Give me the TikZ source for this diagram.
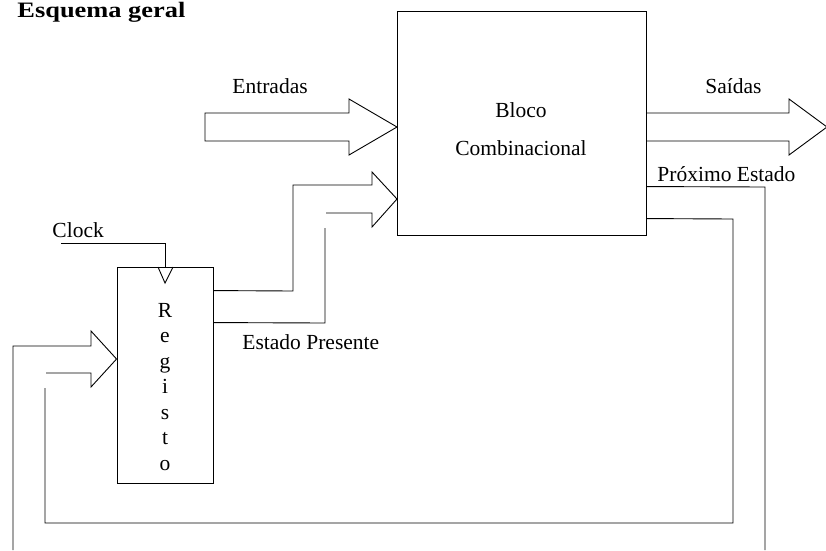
\documentclass[tikz,border=0pt]{standalone}
\usepackage{fontspec}
\setmainfont{Liberation Serif}
\newfontfamily\titlefont[FakeStretch=1.2]{Liberation Serif}
\usetikzlibrary{positioning}

\begin{document}
\begin{tikzpicture}[x=1pt,y=-1pt,line width=0.9pt,
    txt/.style={inner sep=0pt,anchor=base west,font=\fontsize{21.5}{25}\selectfont},
    caixa/.style={draw,rectangle,inner sep=0pt}]
    \useasboundingbox (0,0) rectangle (826,550);
    % Title
    \node[inner sep=0pt,anchor=base west,font=\titlefont\fontsize{22}{26}\bfseries\selectfont] (titulo) at (17,17.5) {Esquema geral};
    % Blocks
    \node[caixa,minimum width=249pt,minimum height=224pt] (bloco) at (521.5,123) {};
    \node[txt,anchor=base] (bloco1) at (521,117) {Bloco};
    \node[txt,anchor=base] (bloco2) at (521,155) {Combinacional};
    \node[caixa,minimum width=96pt,minimum height=216pt] (registo) at (165,375) {};
    \foreach \l [count=\i from 0] in {R,e,g,i,s,t,o} {
        \node[txt,anchor=base] (reg\i) at (165,317+25.5*\i) {\l};
    }
    % Clock
    \coordinate (clk) at (61,243);
    \node[txt] (clock) at (52,237) {Clock};
    \draw (clk) -| (registo.north);
    \draw (158,267) -- (165,283) -- (173,267);
    % Entradas
    \node[txt] (entradas) at (232,93) {Entradas};
    \draw (205,113) -- (349,113) -- (349,99) -- (397,127) -- (349,155) -- (349,141) -- (205,141) -- cycle;
    % Saidas
    \node[txt] (saidas) at (705,93) {Saídas};
    \draw (646,113) -- (789,113) -- (789,99) -- (827,127) -- (789,155) -- (789,141) -- (646,141);
    % Estado presente
    \node[txt] (presente) at (242,349) {Estado Presente};
    \draw ([yshift=-24pt]registo.north east) -- (293,291) -- (293,185) -- (372,185) -- (372,172)
        -- (397,199) -- (372,227) -- (372,213) -- (326,213);
    \draw (325,228) -- (325,323) -- ([yshift=-56pt]registo.north east);
    % Proximo estado
    \node[txt] (proximo) at (657,181) {Próximo Estado};
    \draw ([yshift=-176pt]bloco.north east) -- (765,187) -- (765,550);
    \draw ([yshift=-208pt]bloco.north east) -- (733,219) -- (733,523) -- (45,523) -- (45,388);
    \draw (13,550) -- (13,346) -- (91,346) -- (91,331) -- (registo.west |- 0,359) -- (91,387) -- (91,373) -- (46,373);
\end{tikzpicture}
\end{document}
